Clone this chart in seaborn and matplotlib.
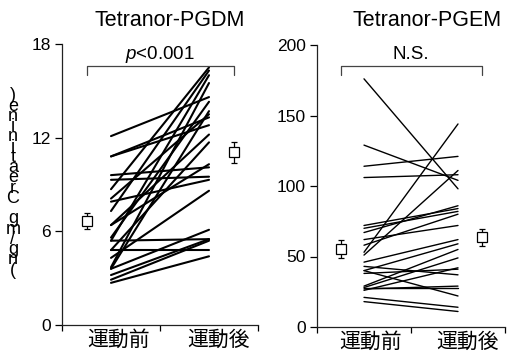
import numpy as np
import pandas as pd
import matplotlib
matplotlib.use("Agg")
import matplotlib.pyplot as plt
import seaborn as sns

# ---------------- data ----------------
categories = ["運動前", "運動後"]
titles = ["Tetranor-PGDM", "Tetranor-PGEM"]

pgdm_before = [12.1, 10.8, 10.8, 9.6, 9.3, 8.7, 8.1, 7.9, 7.3, 6.4, 6.4, 5.6,
               5.4, 5.4, 4.8, 4.8, 4.3, 3.7, 3.6, 3.6, 3.2, 2.9, 2.7]
pgdm_after = [14.6, 13.3, 12.8, 10.1, 9.5, 16.5, 13.5, 9.3, 16.3, 10.3, 12.2, 14.3,
              5.5, 16.0, 4.8, 11.7, 8.6, 15.5, 13.7, 6.1, 5.5, 5.4, 4.4]

pgem_before = [176, 129, 114, 106, 72, 70, 67, 62, 58, 53, 51, 46,
               43, 40, 38, 29, 28, 28, 26, 21, 18, 40, 27]
pgem_after = [98, 104, 121, 108, 84, 82, 86, 72, 80, 144, 111, 62,
              37, 59, 41, 55, 49, 28, 42, 14, 11, 22, 29]

pgdm_mean = [6.65, 11.05]
pgdm_err = [0.5, 0.7]
pgem_mean = [55.5, 63.5]
pgem_err = [6.5, 6.3]

y_ticks_pgdm = [0, 6, 12, 18]
y_ticks_pgem = [0, 50, 100, 150, 200]
p_labels = ["$p$<0.001", "N.S."]
ylabel = "(ng/mg Creatinine)"

# ---------------- style ----------------
sns.set_style("ticks")
plt.rcParams["font.family"] = ["Liberation Sans", "Noto Sans CJK JP", "DejaVu Sans"]
plt.rcParams["mathtext.fontset"] = "custom"
plt.rcParams["mathtext.it"] = "Liberation Sans:italic"
plt.rcParams["mathtext.rm"] = "Liberation Sans"
plt.rcParams["text.color"] = "black"
plt.rcParams["xtick.color"] = "black"
plt.rcParams["ytick.color"] = "black"
plt.rcParams["xtick.labelcolor"] = "black"
plt.rcParams["ytick.labelcolor"] = "black"

fig = plt.figure(figsize=(5.09, 3.56), dpi=100)
ax1 = fig.add_axes([62 / 509, 1 - 325 / 356, 196 / 509, 281 / 356])
ax2 = fig.add_axes([317 / 509, 1 - 327 / 356, 188 / 509, 282 / 356])

x_line = [1, 3]
x_box = [0.5, 3.5]


def make_df(before, after):
    n = len(before)
    return pd.DataFrame({
        "subject": list(range(n)) * 2,
        "x": [x_line[0]] * n + [x_line[1]] * n,
        "value": list(before) + list(after),
    })


panels = [
    (ax1, make_df(pgdm_before, pgdm_after), pgdm_mean, pgdm_err, y_ticks_pgdm,
     (0, 18), 1.5, 16.6, 0.6, 17.3, p_labels[0]),
    (ax2, make_df(pgem_before, pgem_after), pgem_mean, pgem_err, y_ticks_pgem,
     (0, 200), 1.0, 185, 6.5, 193, p_labels[1]),
]

for ax, df, means, errs, yt, ylim, lw, by, bdrop, ty, ptxt in panels:
    sns.lineplot(data=df, x="x", y="value", units="subject", estimator=None,
                 color="black", lw=lw, ax=ax, legend=False)
    ax.errorbar(x_box, means, yerr=errs, fmt="s", ms=6.5, mfc="white",
                mec="black", mew=0.9, ecolor="black", elinewidth=0.9,
                capsize=2.5, capthick=0.9, zorder=5)
    ax.set_xlim(0, 4)
    ax.set_ylim(*ylim)
    ax.set_yticks(yt)
    ax.set_xticks([0, 2, 4])
    ax.set_xticklabels([])
    ax.set_xticks([1.15, 3.2], minor=True)
    ax.set_xticklabels(categories, minor=True, fontsize=15)
    ax.tick_params(axis="x", which="minor", length=0, pad=4)
    ax.tick_params(axis="x", which="major", length=4, width=0.9, direction="out")
    ax.tick_params(axis="y", length=5, width=0.9, labelsize=12.5, pad=3)
    ax.set_xlabel("")
    ax.set_ylabel("")
    for s in ["top", "right"]:
        ax.spines[s].set_visible(False)
    for s in ["left", "bottom"]:
        ax.spines[s].set_linewidth(0.9)
        ax.spines[s].set_color("#222222")
    # bracket
    ax.plot([0.5, 0.5, 3.5, 3.5], [by - bdrop, by, by, by - bdrop],
            color="#444444", lw=0.9, clip_on=False)
    ax.text(2.0, ty, ptxt, ha="center", va="center", fontsize=13.5)

fig.text(170 / 509, 1 - 20 / 356, titles[0], ha="center", va="center", fontsize=15.5)
fig.text(427 / 509, 1 - 20 / 356, titles[1], ha="center", va="center", fontsize=15.5)

# stacked y label as in the reference
fig.text(13 / 509, 1 - 183 / 356, "\n".join(reversed(ylabel)), ha="center",
         va="center", fontsize=13, linespacing=0.48)

fig.savefig("out.png", dpi=100)
